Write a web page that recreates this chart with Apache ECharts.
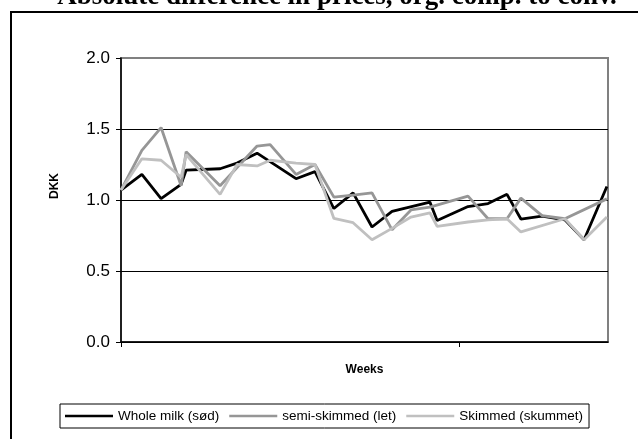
<!DOCTYPE html>
<html>
<head>
<meta charset="utf-8">
<script src="https://cdn.jsdelivr.net/npm/echarts@6/dist/echarts.min.js"></script>
<style>
html,body{margin:0;padding:0;background:#fff;}
#c{width:638px;height:439px;}
</style>
</head>
<body>
<div id="c"></div>
<script>
// Observation day offsets (x positions along the "Weeks" axis)
const dayOffsets = [0, 7.5, 14.4, 21.6, 23.4, 35.6, 41.7, 48.9, 53.6, 62.9, 69.7, 76.5, 83.4, 90.2, 97.4, 104.2, 111.0, 113.6, 124.7, 131.9, 138.7, 143.7, 151.3, 159.5, 166.4, 174.6];
// Absolute price differences, DKK (null = no separate reading, line continues)
const wholeMilk   = [1.07, 1.18, 1.01, 1.11, 1.21, 1.22, 1.26, 1.33, null, 1.15, 1.20, 0.94, 1.05, 0.81, 0.92, null, 0.985, 0.856, 0.954, 0.975, 1.04, 0.866, 0.886, 0.86, 0.72, 1.095];
const semiSkimmed = [1.07, 1.35, 1.51, 1.10, 1.34, 1.10, null, 1.38, 1.39, 1.18, 1.25, 1.02, 1.035, 1.05, 0.79, 0.93, 0.95, null, 1.027, 0.868, 0.868, 1.013, 0.89, 0.868, null, 1.008];
const skimmed     = [1.07, 1.29, 1.28, 1.16, 1.32, 1.04, 1.25, 1.24, 1.28, 1.26, 1.25, 0.87, 0.84, 0.72, 0.80, 0.88, 0.91, 0.814, 0.845, 0.86, 0.868, 0.775, null, 0.868, 0.72, 0.88];
const seriesNames = ['Whole milk (sød)', 'semi-skimmed (let)', 'Skimmed (skummet)'];
const xTickDays = [0, 121.5];

const pair = arr => dayOffsets.map((d, i) => [d, arr[i]]);
const colors = ['#000000', '#969696', '#c0c0c0'];
const font = 'Liberation Sans, Arial, sans-serif';

const chart = echarts.init(document.getElementById('c'), null, {renderer: 'canvas'});
chart.setOption({
  animation: false,
  backgroundColor: '#ffffff',
  grid: {left: 121, right: 30, top: 58, bottom: 97, show: true, borderColor: '#808080', borderWidth: 2, backgroundColor: 'transparent', containLabel: false, outerBoundsMode: 'none'},
  graphic: [
    {type: 'rect', shape: {x: 11, y: 12, width: 900, height: 900}, style: {fill: 'none', stroke: '#000', lineWidth: 2}, silent: true},
    {type: 'text', x: 337, y: 11, style: {text: 'Absolute difference in prices, org. comp. to conv.', font: 'bold 27px "Liberation Serif", "Times New Roman", serif', fill: '#000', textAlign: 'center', textVerticalAlign: 'bottom'}},
    {type: 'text', x: 55, y: 186, rotation: Math.PI / 2, style: {text: 'DKK', font: 'bold 12px ' + font, fill: '#000', textAlign: 'center', textVerticalAlign: 'middle'}}
  ],
  legend: {
    data: seriesNames,
    left: 60, top: 404,
    orient: 'horizontal',
    icon: 'rect',
    itemWidth: 48, itemHeight: 2.5, itemGap: 10,
    padding: [5, 6, 5, 5],
    borderColor: '#000', borderWidth: 1,
    textStyle: {fontFamily: font, fontSize: 13.5, color: '#000'},
    selectedMode: false
  },
  xAxis: {
    type: 'value', min: 0, max: 175, interval: 121.5,
    name: 'Weeks', nameLocation: 'middle', nameGap: 22,
    nameTextStyle: {fontFamily: font, fontSize: 12, fontWeight: 'bold', color: '#000'},
    axisLine: {show: true, lineStyle: {color: '#000', width: 1.5}},
    axisTick: {show: true, length: 5, customValues: xTickDays, lineStyle: {color: '#000'}},
    axisLabel: {show: false},
    splitLine: {show: false}
  },
  yAxis: {
    type: 'value', min: 0, max: 2, interval: 0.5,
    axisLine: {show: true, lineStyle: {color: '#000', width: 1.5}},
    axisTick: {show: true, length: 5, lineStyle: {color: '#000'}},
    axisLabel: {margin: 11, fontFamily: font, fontSize: 17, color: '#000', formatter: v => v.toFixed(1)},
    splitLine: {show: true, showMaxLine: false, lineStyle: {color: '#000', width: 1}}
  },
  series: [
    {name: seriesNames[0], type: 'line', data: pair(wholeMilk), connectNulls: true, symbol: 'none', lineStyle: {color: colors[0], width: 2.8}, itemStyle: {color: colors[0]}},
    {name: seriesNames[1], type: 'line', data: pair(semiSkimmed), connectNulls: true, symbol: 'none', lineStyle: {color: colors[1], width: 2.8}, itemStyle: {color: colors[1]}},
    {name: seriesNames[2], type: 'line', data: pair(skimmed), connectNulls: true, symbol: 'none', lineStyle: {color: colors[2], width: 2.8}, itemStyle: {color: colors[2]}}
  ]
});
</script>
</body>
</html>
